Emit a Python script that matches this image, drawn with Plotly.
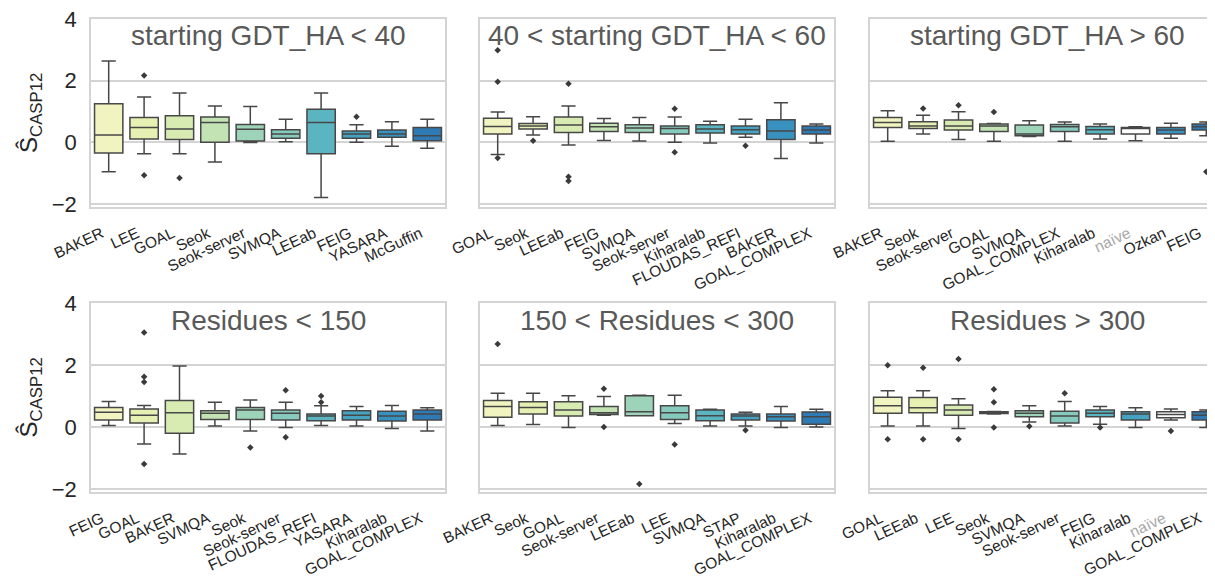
import plotly.graph_objects as go

# ---------------- data ----------------
TITLES = ["starting GDT_HA < 40", "40 < starting GDT_HA < 60", "starting GDT_HA > 60",
          "Residues < 150", "150 < Residues < 300", "Residues > 300"]

CATS_1 = ["BAKER", "LEE", "GOAL", "Seok", "Seok-server", "SVMQA", "LEEab", "FEIG", "YASARA", "McGuffin"]
LO_1 = [-0.96, -0.37, -0.37, -0.64, -0.01, 0.02, -1.79, 0.00, -0.13, -0.19]
Q1_1 = [-0.35, 0.11, 0.09, 0.00, 0.04, 0.13, -0.37, 0.13, 0.16, 0.05]
MED_1 = [0.24, 0.48, 0.43, 0.64, 0.42, 0.27, 0.64, 0.27, 0.27, 0.21]
Q3_1 = [1.25, 0.80, 0.86, 0.82, 0.58, 0.41, 1.07, 0.37, 0.40, 0.48]
HI_1 = [2.64, 1.47, 1.60, 1.18, 1.16, 0.75, 1.60, 0.57, 0.67, 0.75]
OUTX_1 = ["LEE", "LEE", "GOAL", "FEIG"]
OUTY_1 = [2.17, -1.07, -1.16, 0.83]

CATS_2 = ["GOAL", "Seok", "LEEab", "FEIG", "SVMQA", "Seok-server", "Kiharalab", "FLOUDAS_REFI", "BAKER", "GOAL_COMPLEX"]
LO_2 = [-0.40, 0.24, -0.09, 0.06, 0.04, 0.00, -0.02, 0.16, -0.53, -0.02]
Q1_2 = [0.27, 0.43, 0.32, 0.35, 0.32, 0.27, 0.30, 0.27, 0.09, 0.27]
MED_2 = [0.51, 0.53, 0.56, 0.50, 0.46, 0.45, 0.43, 0.41, 0.37, 0.40]
Q3_2 = [0.78, 0.61, 0.82, 0.62, 0.57, 0.53, 0.57, 0.53, 0.73, 0.53]
HI_2 = [0.98, 0.83, 1.18, 0.77, 0.80, 0.82, 0.68, 0.75, 1.28, 0.59]
OUTX_2 = ["GOAL", "GOAL", "GOAL", "Seok", "LEEab", "LEEab", "LEEab", "Seok-server", "Seok-server", "FLOUDAS_REFI"]
OUTY_2 = [2.99, 1.96, -0.51, 0.05, 1.90, -1.12, -1.26, 1.09, -0.32, -0.11]

CATS_3 = ["BAKER", "Seok", "Seok-server", "GOAL", "SVMQA", "GOAL_COMPLEX", "Kiharalab", "naïve", "Ozkan", "FEIG"]
LO_3 = [0.03, 0.27, 0.09, 0.03, 0.19, 0.03, 0.11, 0.05, 0.13, 0.21]
Q1_3 = [0.48, 0.45, 0.40, 0.35, 0.21, 0.35, 0.27, 0.27, 0.27, 0.40]
MED_3 = [0.64, 0.53, 0.53, 0.53, 0.27, 0.50, 0.41, 0.46, 0.40, 0.50]
Q3_3 = [0.80, 0.67, 0.72, 0.59, 0.56, 0.58, 0.51, 0.48, 0.48, 0.59]
HI_3 = [1.02, 0.88, 0.99, 0.61, 0.70, 0.66, 0.59, 0.50, 0.62, 0.66]
OUTX_3 = ["Seok", "Seok-server", "GOAL", "FEIG"]
OUTY_3 = [1.10, 1.20, 0.98, -0.96]

CATS_4 = ["FEIG", "GOAL", "BAKER", "SVMQA", "Seok", "Seok-server", "FLOUDAS_REFI", "YASARA", "Kiharalab", "GOAL_COMPLEX"]
LO_4 = [0.05, -0.55, -0.87, 0.03, -0.13, -0.02, 0.05, 0.03, -0.05, -0.13]
Q1_4 = [0.22, 0.13, -0.20, 0.24, 0.24, 0.22, 0.20, 0.22, 0.19, 0.22]
MED_4 = [0.47, 0.38, 0.46, 0.44, 0.55, 0.44, 0.35, 0.38, 0.35, 0.42]
Q3_4 = [0.63, 0.58, 0.85, 0.52, 0.63, 0.55, 0.42, 0.52, 0.51, 0.55]
HI_4 = [0.82, 0.69, 1.97, 0.80, 0.87, 0.80, 0.68, 0.66, 0.69, 0.62]
OUTX_4 = ["GOAL", "GOAL", "GOAL", "GOAL", "Seok", "Seok-server", "Seok-server", "FLOUDAS_REFI", "FLOUDAS_REFI"]
OUTY_4 = [3.05, 1.62, 1.45, -1.20, -0.66, 1.18, -0.33, 1.00, 0.80]

CATS_5 = ["BAKER", "Seok", "GOAL", "Seok-server", "LEEab", "LEE", "SVMQA", "STAP", "Kiharalab", "GOAL_COMPLEX"]
LO_5 = [0.05, 0.08, -0.02, 0.38, 0.36, 0.11, 0.03, 0.03, -0.02, 0.00]
Q1_5 = [0.31, 0.42, 0.35, 0.40, 0.36, 0.24, 0.20, 0.22, 0.19, 0.09]
MED_5 = [0.66, 0.63, 0.55, 0.46, 0.49, 0.46, 0.36, 0.35, 0.33, 0.33]
Q3_5 = [0.85, 0.81, 0.81, 0.66, 1.01, 0.68, 0.55, 0.42, 0.42, 0.48]
HI_5 = [1.09, 1.09, 1.01, 0.98, 1.02, 1.02, 0.57, 0.47, 0.66, 0.57]
OUTX_5 = ["BAKER", "Seok-server", "Seok-server", "LEEab", "LEE", "STAP"]
OUTY_5 = [2.68, 1.23, 0.00, -1.84, -0.57, -0.11]

CATS_6 = ["GOAL", "LEEab", "LEE", "Seok", "SVMQA", "Seok-server", "FEIG", "Kiharalab", "naïve", "GOAL_COMPLEX"]
LO_6 = [0.03, 0.03, -0.05, 0.42, 0.16, 0.03, 0.09, -0.02, 0.22, -0.02]
Q1_6 = [0.44, 0.46, 0.38, 0.43, 0.33, 0.13, 0.33, 0.22, 0.30, 0.22]
MED_6 = [0.68, 0.62, 0.55, 0.46, 0.44, 0.35, 0.44, 0.42, 0.40, 0.38]
Q3_6 = [0.96, 0.95, 0.71, 0.49, 0.52, 0.51, 0.55, 0.49, 0.49, 0.49]
HI_6 = [1.17, 1.17, 0.91, 0.50, 0.68, 0.82, 0.66, 0.62, 0.58, 0.55]
OUTX_6 = ["GOAL", "GOAL", "LEEab", "LEEab", "LEE", "LEE", "Seok", "Seok", "Seok",
          "SVMQA", "Seok-server", "FEIG", "naïve"]
OUTY_6 = [1.99, -0.40, 1.91, -0.40, 2.19, -0.40, 1.22, 0.80, -0.02,
          0.02, 1.09, -0.02, -0.13]

Y_TICKS = [-2, 0, 2, 4]
Y_TICK_TEXT = ["\u22122", "0", "2", "4"]

# ---------------- styling ----------------
PALETTE = ["#f1f4c0", "#e6f0b3", "#d7ebb3", "#c3e3b5", "#9dd3b8",
           "#86cabd", "#5bb5c0", "#45a3c1", "#3991c0", "#2e7ab5"]
NAIVE = "naïve"
LINE = "#474747"
GRID = "#d4d4d4"
FONT = "Arial, Liberation Sans, sans-serif"

OFF = 8            # default page margin of the html body
W, H = 1216, 583   # figure size; the page window crops the right/bottom edge
# pixel geometry of the panels, in window coordinates
PX_X = [(91, 445), (480, 834), (870, 1224)]
PX_Y = [(19, 207), (303, 492)]
XLAB_STANDOFF = [10, 10]


def fx(px):
    return (px - OFF) / W


def fy(py):
    return 1 - (py - OFF) / H


panels = [
    (CATS_1, LO_1, Q1_1, MED_1, Q3_1, HI_1, OUTX_1, OUTY_1),
    (CATS_2, LO_2, Q1_2, MED_2, Q3_2, HI_2, OUTX_2, OUTY_2),
    (CATS_3, LO_3, Q1_3, MED_3, Q3_3, HI_3, OUTX_3, OUTY_3),
    (CATS_4, LO_4, Q1_4, MED_4, Q3_4, HI_4, OUTX_4, OUTY_4),
    (CATS_5, LO_5, Q1_5, MED_5, Q3_5, HI_5, OUTX_5, OUTY_5),
    (CATS_6, LO_6, Q1_6, MED_6, Q3_6, HI_6, OUTX_6, OUTY_6),
]

fig = go.Figure()
layout = dict(
    width=W, height=H, margin=dict(l=0, r=0, t=0, b=0, autoexpand=False),
    paper_bgcolor="white", plot_bgcolor="white", showlegend=False,
    boxmode="overlay", font=dict(family=FONT, color="#262626"),
)
annotations = []

for i, (cats, lo, q1, med, q3, hi, ox, oy) in enumerate(panels):
    r, c = divmod(i, 3)
    n = i + 1
    xa = "x" if n == 1 else f"x{n}"
    ya = "y" if n == 1 else f"y{n}"
    for j, cat in enumerate(cats):
        col = "#ffffff" if cat == NAIVE else PALETTE[j]
        fig.add_trace(go.Box(
            x=[cat], q1=[q1[j]], median=[med[j]], q3=[q3[j]],
            lowerfence=[lo[j]], upperfence=[hi[j]],
            fillcolor=col, line=dict(color=LINE, width=1.5),
            width=0.8, whiskerwidth=0.5, boxpoints=False,
            xaxis=xa, yaxis=ya, hoverinfo="skip",
        ))
    fig.add_trace(go.Scatter(
        x=ox, y=oy, mode="markers", xaxis=xa, yaxis=ya,
        marker=dict(symbol="diamond", size=5, color="#3a3a3a"),
        hoverinfo="skip",
    ))

    x0, x1 = PX_X[c]
    y0, y1 = PX_Y[r]
    ticktext = [f"<span style='color:#a8a8a8'>{t}</span>" if t == NAIVE else t for t in cats]
    layout["xaxis" if n == 1 else f"xaxis{n}"] = dict(
        domain=[fx(x0), min(1.0, fx(x1))], anchor=ya, type="category",
        categoryorder="array", categoryarray=cats,
        range=[-0.5, len(cats) - 0.5], tickvals=cats, ticktext=ticktext,
        tickangle=-25, tickfont=dict(size=15.5, color="#262626"),
        showgrid=False, zeroline=False, showline=True, mirror=True,
        linecolor=GRID, linewidth=1.5, ticks="",
        ticklabelstandoff=XLAB_STANDOFF[r], ticklabelshift=-7,
        automargin=False, ticklabeloverflow="allow",
    )
    layout["yaxis" if n == 1 else f"yaxis{n}"] = dict(
        domain=[fy(y1), fy(y0)], anchor=xa,
        range=[-2.1, 4], tickvals=Y_TICKS, ticktext=Y_TICK_TEXT,
        showticklabels=(c == 0), tickfont=dict(size=22, color="#262626"),
        showgrid=True, gridcolor=GRID, gridwidth=1.5, zeroline=False,
        showline=True, mirror=True, linecolor=GRID, linewidth=1.5,
        ticks="", ticklabelstandoff=8, automargin=False,
        ticklabeloverflow="allow",
    )
    annotations.append(dict(
        text=TITLES[i], xref="paper", yref="paper",
        x=fx((x0 + x1) / 2), y=fy(y0 + 17),
        xanchor="center", yanchor="middle", showarrow=False,
        font=dict(size=28, color="#595959", family=FONT),
    ))
    if c == 0:
        annotations.append(dict(
            text="Ŝ<sub>CASP12</sub>", xref="paper", yref="paper",
            x=fx(30), y=fy((y0 + y1) / 2), textangle=-90,
            xanchor="center", yanchor="middle", showarrow=False,
            font=dict(size=24, color="#262626", family=FONT),
        ))

layout["annotations"] = annotations
fig.update_layout(**layout)
fig.write_html("out.html")
